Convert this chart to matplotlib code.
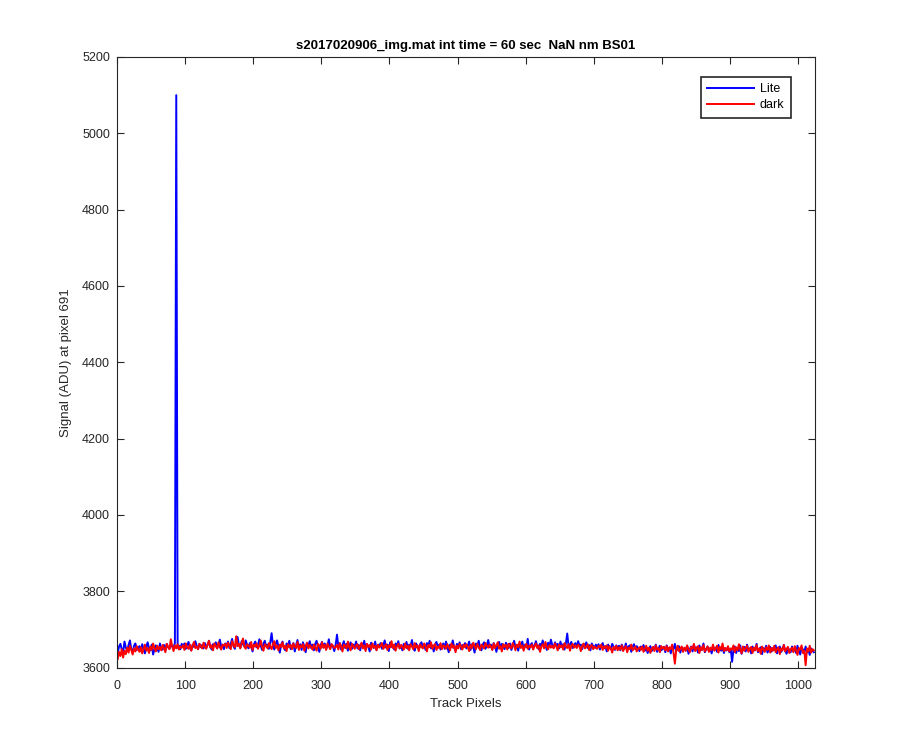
import numpy as np
import matplotlib
matplotlib.use("Agg")
import matplotlib.pyplot as plt

plt.rcParams["font.family"] = ["Liberation Sans", "DejaVu Sans"]

# track pixel positions (every other pixel)
pixels = list(range(1, 1024, 2))

# Lite signal (ADU), 16 values per row
lite = [
    3638, 3655, 3662, 3647, 3641, 3668, 3652, 3644, 3659, 3671, 3648, 3640, 3657, 3663, 3646, 3651,
    3656, 3643, 3661, 3649, 3637, 3654, 3666, 3650, 3645, 3660, 3634, 3648, 3658, 3652, 3641, 3663,
    3650, 3647, 3659, 3644, 3662, 3653, 3649, 3661, 3655, 3652, 3664, 5100, 3652, 3657, 3648, 3662,
    3655, 3663, 3649, 3658, 3667, 3651, 3645, 3660, 3654, 3669, 3657, 3648, 3662, 3653, 3659, 3650,
    3664, 3652, 3658, 3670, 3655, 3647, 3661, 3657, 3666, 3650, 3659, 3673, 3654, 3660, 3648, 3663,
    3657, 3668, 3651, 3662, 3675, 3656, 3649, 3665, 3680, 3658, 3652, 3669, 3661, 3655, 3671, 3659,
    3650, 3664, 3656, 3642, 3661, 3668, 3653, 3659, 3674, 3657, 3646, 3663, 3670, 3655, 3660, 3649,
    3666, 3690, 3658, 3647, 3662, 3671, 3654, 3639, 3660, 3668, 3652, 3645, 3663, 3657, 3670, 3648,
    3656, 3664, 3642, 3659, 3672, 3650, 3661, 3646, 3666, 3655, 3640, 3663, 3658, 3669, 3651, 3660,
    3645, 3662, 3670, 3654, 3641, 3659, 3667, 3652, 3663, 3648, 3657, 3674, 3650, 3661, 3655, 3643,
    3660, 3686, 3653, 3664, 3647, 3658, 3669, 3651, 3662, 3644, 3657, 3666, 3649, 3660, 3653, 3668,
    3650, 3659, 3645, 3663, 3656, 3670, 3648, 3661, 3654, 3642, 3665, 3657, 3651, 3668, 3646, 3659,
    3655, 3664, 3649, 3658, 3671, 3652, 3660, 3643, 3666, 3654, 3659, 3647, 3663, 3656, 3669, 3650,
    3658, 3645, 3662, 3653, 3667, 3649, 3660, 3656, 3672, 3651, 3644, 3663, 3657, 3648, 3661, 3666,
    3652, 3659, 3646, 3664, 3655, 3670, 3650, 3658, 3642, 3661, 3667, 3653, 3660, 3647, 3656, 3663,
    3649, 3668, 3654, 3640, 3660, 3657, 3671, 3651, 3645, 3662, 3655, 3666, 3648, 3659, 3653, 3664,
    3650, 3657, 3668, 3646, 3661, 3654, 3639, 3663, 3656, 3670, 3652, 3645, 3660, 3666, 3649, 3658,
    3672, 3653, 3660, 3647, 3664, 3656, 3641, 3659, 3667, 3650, 3662, 3655, 3648, 3665, 3658, 3651,
    3663, 3646, 3657, 3670, 3652, 3659, 3644, 3661, 3655, 3668, 3649, 3660, 3653, 3675, 3647, 3658,
    3664, 3651, 3658, 3669, 3655, 3648, 3662, 3657, 3671, 3653, 3660, 3646, 3665, 3656, 3673, 3659,
    3652, 3666, 3657, 3662, 3650, 3668, 3655, 3661, 3647, 3663, 3689, 3654, 3660, 3667, 3651, 3658,
    3664, 3653, 3669, 3657, 3660, 3648, 3662, 3655, 3666, 3651, 3659, 3645, 3663, 3656, 3652, 3660,
    3654, 3661, 3647, 3658, 3664, 3650, 3656, 3642, 3660, 3653, 3648, 3662, 3655, 3646, 3658, 3651,
    3657, 3645, 3660, 3652, 3649, 3663, 3646, 3655, 3658, 3641, 3654, 3661, 3648, 3656, 3650, 3643,
    3655, 3648, 3659, 3644, 3652, 3638, 3650, 3656, 3643, 3653, 3647, 3660, 3641, 3651, 3657, 3645,
    3649, 3654, 3640, 3658, 3646, 3652, 3637, 3655, 3648, 3662, 3643, 3650, 3656, 3639, 3653, 3647,
    3651, 3644, 3657, 3636, 3649, 3655, 3642, 3660, 3646, 3653, 3639, 3658, 3645, 3651, 3663, 3640,
    3648, 3655, 3643, 3650, 3637, 3656, 3646, 3652, 3641, 3659, 3647, 3644, 3654, 3638, 3651, 3645,
    3653, 3640, 3649, 3615, 3646, 3655, 3638, 3651, 3643, 3658, 3636, 3648, 3654, 3642, 3660, 3645,
    3650, 3637, 3655, 3644, 3649, 3662, 3640, 3647, 3653, 3635, 3651, 3645, 3657, 3639, 3648, 3654,
    3642, 3651, 3646, 3658, 3637, 3649, 3655, 3641, 3647, 3659, 3644, 3636, 3652, 3646, 3640, 3655,
    3643, 3650, 3638, 3657, 3645, 3634, 3652, 3647, 3641, 3655, 3639, 3648, 3633, 3650, 3644, 3640,
]

# dark signal (ADU)
dark = [
    3622, 3641, 3630, 3648, 3626, 3644, 3635, 3652, 3639, 3657, 3645, 3634, 3650, 3642, 3656, 3647,
    3641, 3653, 3637, 3649, 3660, 3644, 3651, 3638, 3655, 3646, 3663, 3650, 3642, 3657, 3648, 3654,
    3645, 3659, 3651, 3640, 3662, 3654, 3648, 3674, 3656, 3643, 3658, 3650, 3661, 3647, 3655, 3652,
    3658, 3646, 3663, 3653, 3649, 3660, 3644, 3657, 3667, 3651, 3655, 3648, 3662, 3656, 3650, 3665,
    3654, 3649, 3661, 3670, 3652, 3658, 3645, 3663, 3656, 3650, 3666, 3653, 3647, 3660, 3657, 3662,
    3651, 3665, 3657, 3648, 3669, 3659, 3653, 3682, 3656, 3662, 3650, 3664, 3676, 3655, 3649, 3661,
    3657, 3652, 3667, 3646, 3660, 3655, 3663, 3649, 3658, 3671, 3653, 3644, 3661, 3657, 3650, 3664,
    3655, 3648, 3662, 3669, 3651, 3658, 3645, 3660, 3654, 3666, 3650, 3657, 3643, 3661, 3653, 3659,
    3648, 3663, 3655, 3651, 3667, 3646, 3658, 3653, 3661, 3644, 3657, 3665, 3650, 3659, 3654, 3647,
    3660, 3653, 3644, 3662, 3657, 3649, 3666, 3652, 3659, 3646, 3663, 3655, 3648, 3661, 3657, 3651,
    3653, 3659, 3647, 3664, 3655, 3642, 3660, 3657, 3650, 3668, 3652, 3645, 3662, 3656, 3649, 3658,
    3661, 3648, 3656, 3665, 3650, 3658, 3643, 3662, 3654, 3659, 3647, 3663, 3652, 3657, 3645, 3660,
    3652, 3657, 3664, 3649, 3655, 3661, 3646, 3658, 3653, 3669, 3651, 3660, 3644, 3656, 3662, 3650,
    3659, 3654, 3647, 3663, 3651, 3657, 3645, 3661, 3655, 3648, 3664, 3652, 3658, 3643, 3660, 3654,
    3650, 3663, 3656, 3642, 3659, 3653, 3666, 3649, 3657, 3661, 3646, 3655, 3651, 3664, 3648, 3658,
    3656, 3649, 3661, 3654, 3645, 3663, 3652, 3658, 3640, 3657, 3650, 3662, 3655, 3647, 3660, 3653,
    3661, 3654, 3643, 3659, 3651, 3665, 3656, 3648, 3662, 3653, 3646, 3660, 3655, 3650, 3664, 3657,
    3652, 3660, 3655, 3646, 3663, 3651, 3658, 3666, 3649, 3656, 3642, 3661, 3654, 3659, 3647, 3662,
    3655, 3650, 3664, 3657, 3645, 3660, 3653, 3668, 3651, 3658, 3644, 3656, 3662, 3649, 3657, 3653,
    3660, 3647, 3656, 3663, 3651, 3658, 3641, 3655, 3661, 3650, 3667, 3654, 3648, 3659, 3652, 3657,
    3650, 3663, 3655, 3645, 3660, 3653, 3658, 3647, 3664, 3656, 3651, 3661, 3644, 3657, 3662, 3652,
    3658, 3651, 3660, 3655, 3643, 3657, 3663, 3650, 3654, 3661, 3646, 3656, 3659, 3648, 3655, 3651,
    3649, 3657, 3653, 3660, 3646, 3655, 3651, 3658, 3644, 3656, 3650, 3639, 3654, 3648, 3657, 3645,
    3653, 3647, 3658, 3643, 3651, 3656, 3640, 3652, 3648, 3660, 3645, 3650, 3655, 3642, 3649, 3653,
    3646, 3655, 3641, 3650, 3657, 3644, 3652, 3638, 3649, 3654, 3643, 3658, 3647, 3651, 3640, 3656,
    3650, 3654, 3645, 3656, 3642, 3653, 3648, 3660, 3639, 3610, 3646, 3657, 3643, 3649, 3655, 3641,
    3652, 3644, 3658, 3647, 3640, 3654, 3649, 3662, 3643, 3650, 3656, 3638, 3653, 3646, 3659, 3642,
    3648, 3655, 3641, 3652, 3646, 3660, 3644, 3650, 3657, 3639, 3654, 3647, 3663, 3643, 3651, 3645,
    3656, 3642, 3650, 3647, 3658, 3640, 3653, 3645, 3661, 3648, 3637, 3655, 3644, 3651, 3657, 3641,
    3649, 3654, 3638, 3652, 3645, 3659, 3643, 3650, 3636, 3655, 3647, 3641, 3653, 3646, 3658, 3639,
    3651, 3644, 3657, 3640, 3648, 3653, 3635, 3650, 3645, 3659, 3642, 3649, 3654, 3638, 3647, 3652,
    3640, 3656, 3645, 3633, 3651, 3647, 3658, 3638, 3644, 3606, 3650, 3642, 3657, 3639, 3648, 3645,
]

fig = plt.figure(figsize=(9, 7.5), dpi=100)
ax = fig.add_axes([0.13, 0.11, 0.775, 0.814])

ax.plot(pixels, lite, color="blue", lw=1.4, label="Lite")
ax.plot(pixels, dark, color="red", lw=1.4, label="dark")

ax.set_xlim(0, 1024)
ax.set_ylim(3600, 5200)
ax.set_xticks(np.arange(0, 1001, 100))
ax.set_yticks(np.arange(3600, 5201, 200))

axcol = "#262626"
for s in ax.spines.values():
    s.set_color(axcol)
    s.set_linewidth(0.8)
ax.tick_params(direction="in", top=True, right=True, length=5, width=0.8,
               colors=axcol, labelsize=9, labelcolor=axcol)
ax.tick_params(axis="x", pad=9)
ax.tick_params(axis="y", pad=5)

ax.set_title("s2017020906_img.mat int time = 60 sec  NaN nm BS01",
             fontsize=9.5, fontweight="bold", color="black", pad=6)
ax.set_xlabel("Track Pixels", fontsize=9.5, color=axcol, labelpad=4)
ax.set_ylabel("Signal (ADU) at pixel 691", fontsize=9.5, color=axcol, labelpad=7)

leg = ax.legend(loc="upper right", bbox_to_anchor=(0.967, 0.968), borderaxespad=0,
                fontsize=9, fancybox=False, framealpha=1, edgecolor=axcol,
                handlelength=3.7, handletextpad=0.5, borderpad=0.55, labelspacing=0.3)
leg.get_frame().set_linewidth(1.2)

fig.savefig("out.png", dpi=100)
